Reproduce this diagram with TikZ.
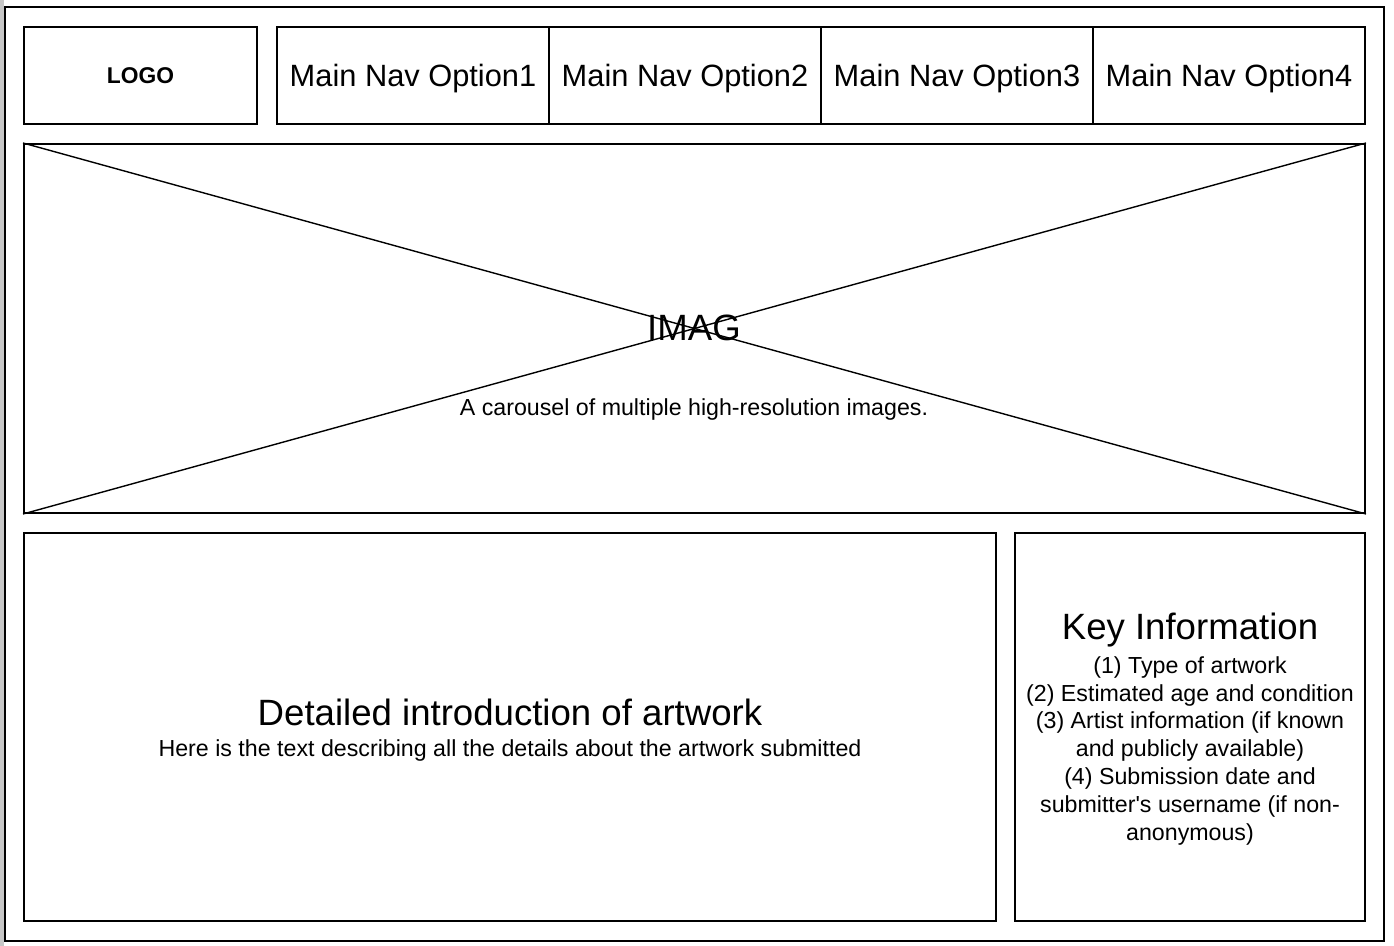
\documentclass[tikz,border=0pt]{standalone}
\usepackage{fontspec}
\setmainfont{Liberation Sans}
\usetikzlibrary{fit}

\newcommand\logotxt{\fontsize{11.4}{13}\bfseries\selectfont}
\newcommand\navtxt{\fontsize{15.4}{18}\selectfont}
\newcommand\headtxt{\fontsize{18.3}{22}\selectfont}
\newcommand\bodytxt{\fontsize{11.6}{13.9}\selectfont}

\tikzset{
  panel/.style={draw, line width=1pt, inner sep=0pt},
  cross/.style={line width=0.7pt},
  txt/.style={inner sep=0pt, align=center}
}

\begin{document}
\begin{tikzpicture}[x=0.5pt,y=-0.5pt]
    \useasboundingbox (0,0) rectangle (1394,946);
    % page frame
    \fill[gray!45] (0,0) rectangle (4,946);
    \node[panel, fit={(5,7) (1384,941)}] (page) {};

    % header
    \node[panel, fit={(24,27) (257,124)}] (logo) {};
    \node[txt, font=\logotxt] (logotext) at (logo.center) {LOGO};
    \foreach \i in {1,...,4} {
        \node[panel, fit={({277+272*(\i-1)},27) ({277+272*\i},124)}] (nav\i) {};
        \node[txt, font=\navtxt, yshift=-1.5pt] (navtext\i) at (nav\i.center) {Main Nav Option\i};
    }

    % image carousel
    \node[panel, fit={(24,144) (1365,513)}] (img) {};
    \draw[cross] (img.north west) -- (img.south east);
    \draw[cross] (img.south west) -- (img.north east);
    \node[txt, font=\headtxt] (imgname) at (694,328) {IMAG};
    \node[txt, font=\bodytxt] (imgnote) at (694,410) {A carousel of multiple high-resolution images.};

    % artwork text
    \node[panel, fit={(24,533) (996,921)}] (intro) {};
    \node[txt, font=\headtxt] (introhead) at (510,712) {Detailed introduction of artwork};
    \node[txt, font=\bodytxt] (introbody) at (510,751) {Here is the text describing all the details about the artwork submitted};

    % key information
    \node[panel, fit={(1015,533) (1365,921)}] (keyinfo) {};
    \node[txt, font=\headtxt] (keyhead) at (1190,630) {Key Information};
    \node[txt, font=\bodytxt, anchor=north] (keylist) at (1190,656) {(1) Type of artwork\\
        (2) Estimated age and condition\\
        (3) Artist information (if known\\
        and publicly available)\\
        (4) Submission date and\\
        submitter\textquotesingle s username (if non-\\
        anonymous)};

\end{tikzpicture}
\end{document}
